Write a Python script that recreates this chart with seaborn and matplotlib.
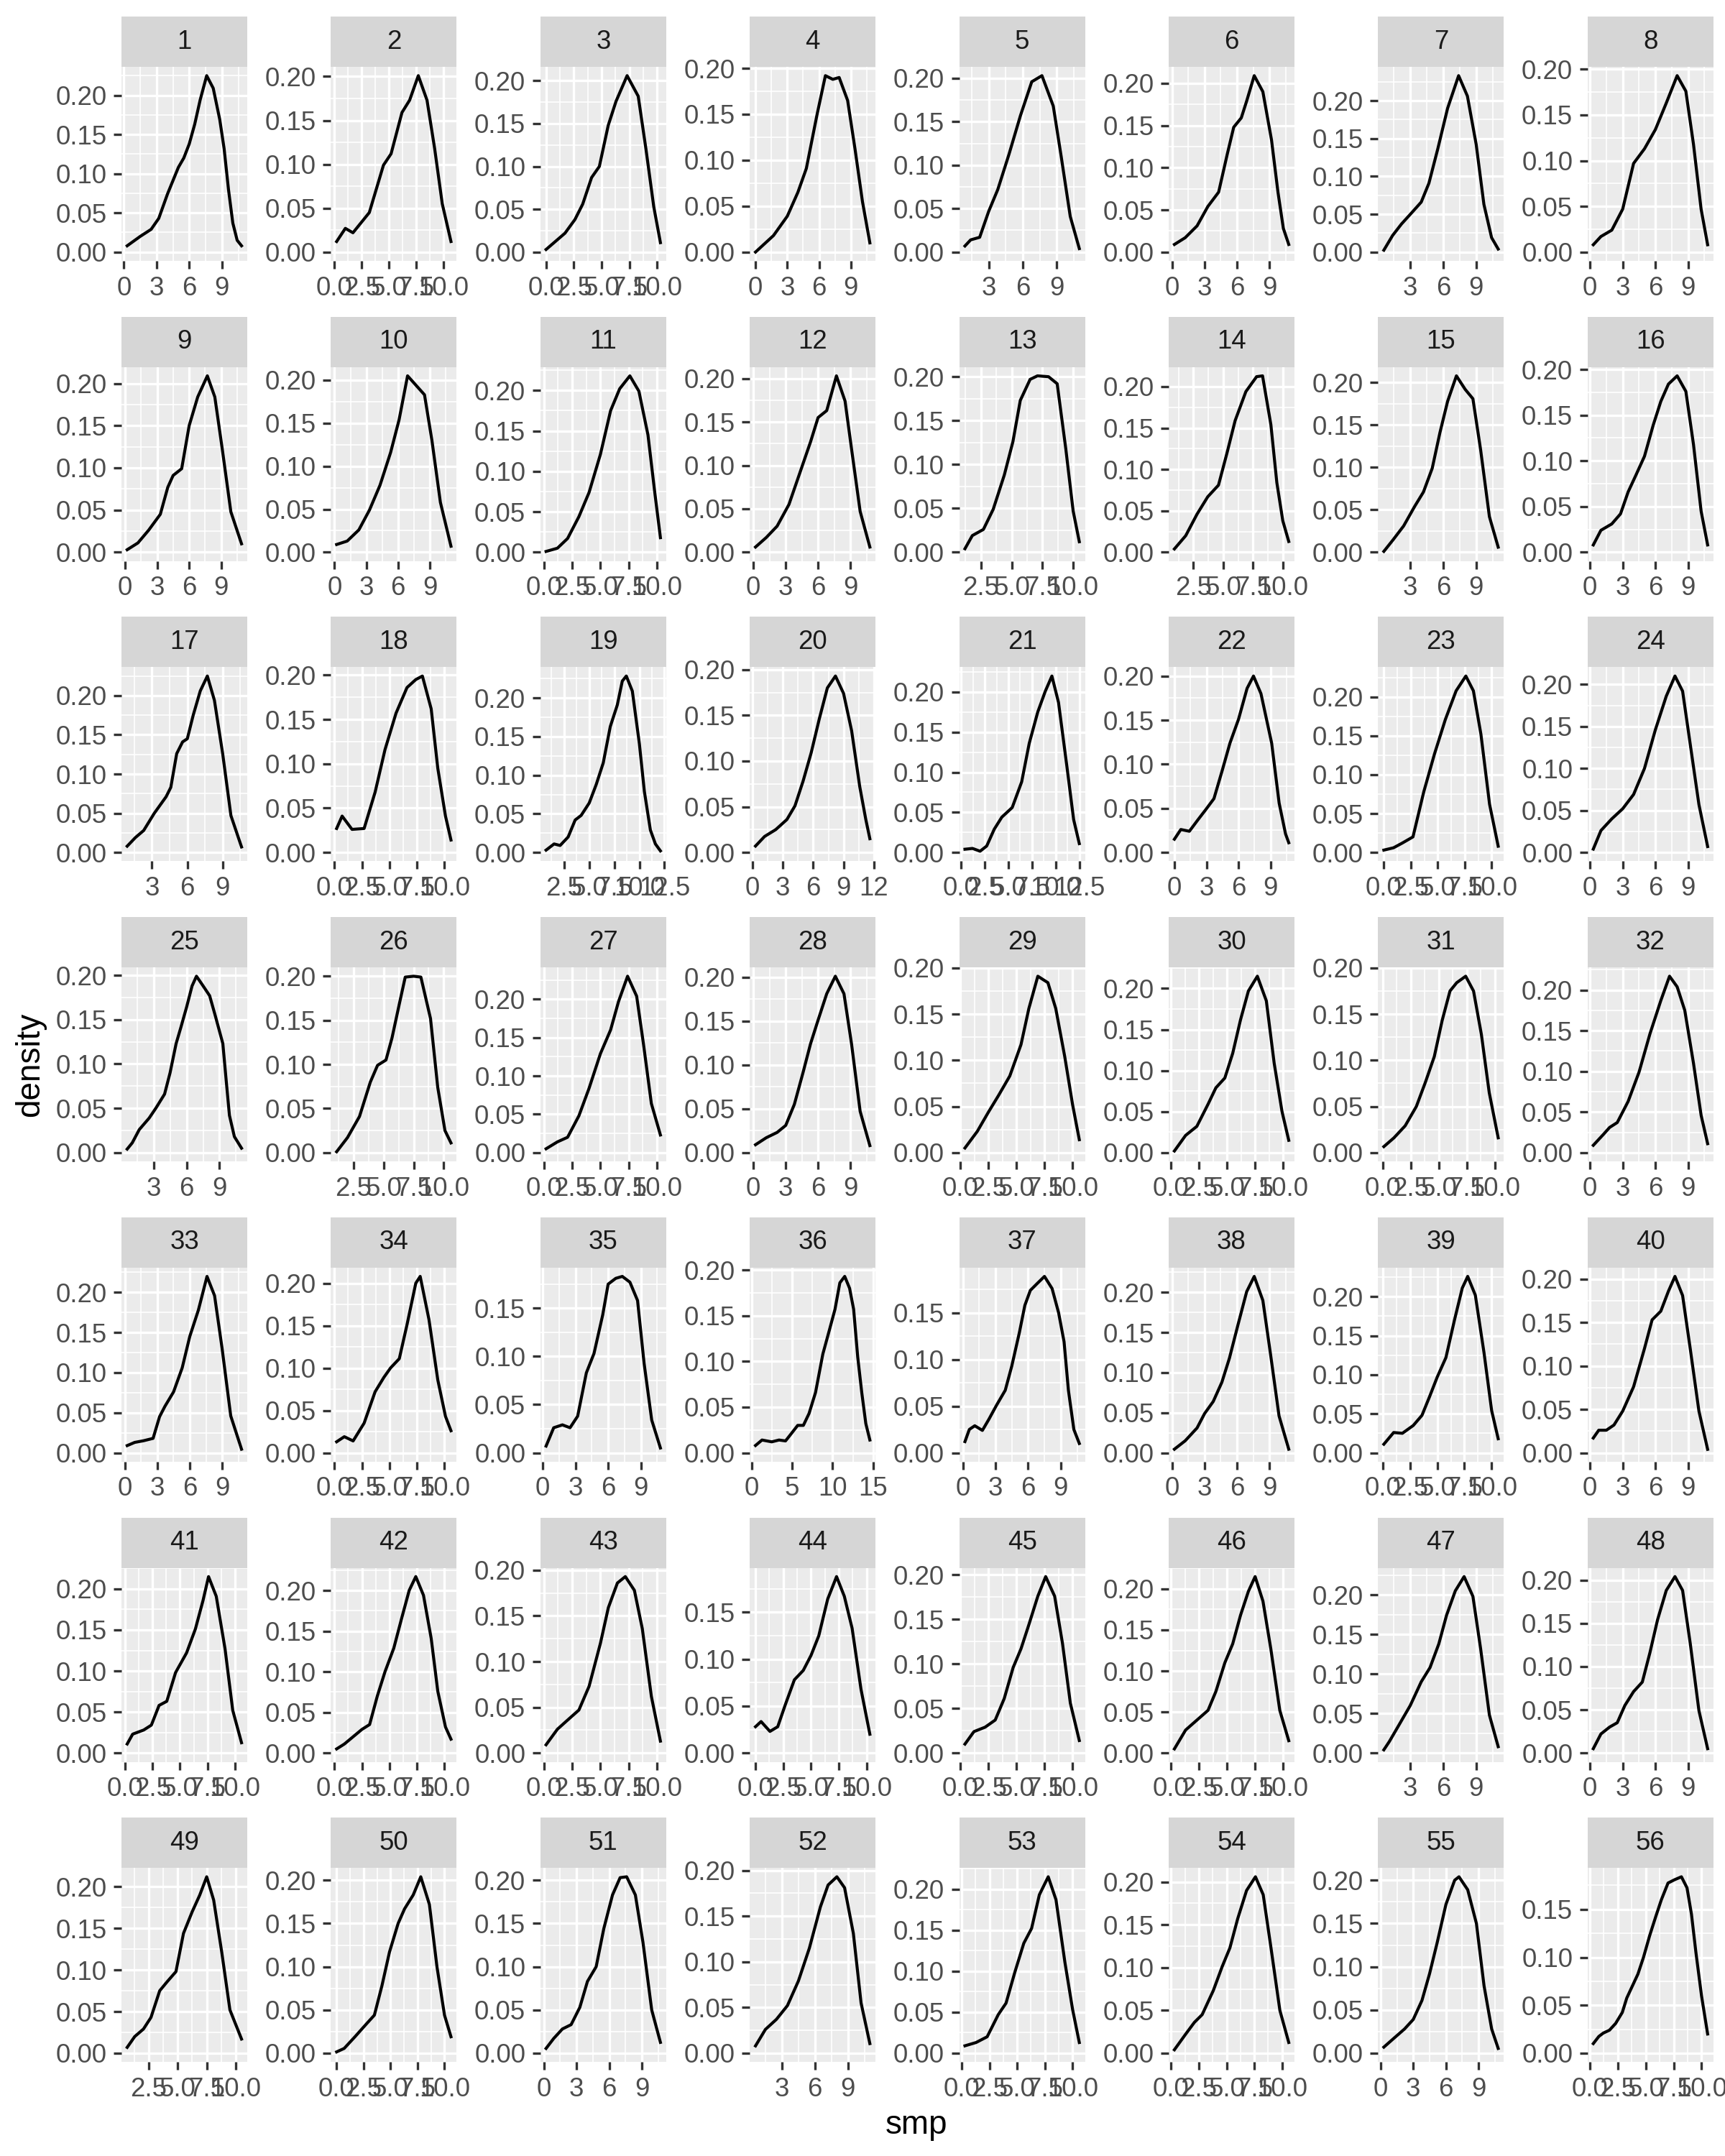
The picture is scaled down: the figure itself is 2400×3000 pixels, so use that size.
import matplotlib
matplotlib.use("Agg")
import matplotlib.pyplot as plt
from matplotlib.patches import Rectangle
from matplotlib.ticker import FixedLocator, FormatStrFormatter
import seaborn as sns

x_1 = [0.3, 1.5, 2.5, 3.2, 4.0, 5.0, 5.5, 6.0, 6.5, 7.0, 7.6, 8.2, 8.8, 9.2, 9.6, 10.0, 10.4, 10.8]
d_1 = [0.008, 0.02, 0.029, 0.043, 0.074, 0.108, 0.12, 0.138, 0.163, 0.194, 0.225, 0.209, 0.169, 0.132, 0.08, 0.037, 0.015, 0.008]
x_2 = [0.2, 1.0, 1.7, 3.2, 4.5, 5.2, 6.2, 6.9, 7.7, 8.5, 9.2, 9.9, 10.7]
d_2 = [0.012, 0.027, 0.022, 0.045, 0.099, 0.112, 0.159, 0.173, 0.201, 0.173, 0.118, 0.055, 0.012]
x_3 = [0.0, 1.7, 2.6, 3.3, 4.1, 4.8, 5.6, 6.3, 7.3, 8.3, 9.0, 9.7, 10.3]
d_3 = [0.003, 0.022, 0.038, 0.056, 0.087, 0.10, 0.148, 0.176, 0.206, 0.182, 0.12, 0.053, 0.011]
x_4 = [0.0, 1.7, 3.0, 4.0, 4.8, 5.8, 6.6, 7.3, 7.9, 8.7, 9.4, 10.1, 10.8]
d_4 = [0.0, 0.018, 0.039, 0.065, 0.091, 0.149, 0.192, 0.188, 0.19, 0.165, 0.112, 0.055, 0.01]
x_5 = [0.9, 1.4, 2.2, 3.0, 3.8, 4.8, 5.8, 6.8, 7.7, 8.7, 9.4, 10.2, 11.0]
d_5 = [0.007, 0.014, 0.017, 0.047, 0.072, 0.113, 0.157, 0.196, 0.203, 0.168, 0.11, 0.041, 0.004]
x_6 = [0.2, 1.2, 2.3, 3.3, 4.3, 5.1, 5.7, 6.4, 6.9, 7.6, 8.4, 9.2, 9.8, 10.3, 10.8]
d_6 = [0.009, 0.017, 0.031, 0.054, 0.071, 0.116, 0.148, 0.159, 0.179, 0.209, 0.19, 0.133, 0.071, 0.028, 0.009]
x_7 = [0.6, 1.4, 2.2, 3.2, 4.0, 4.7, 5.5, 6.4, 7.4, 8.2, 9.0, 9.7, 10.4, 11.0]
d_7 = [0.0025, 0.022, 0.037, 0.053, 0.066, 0.091, 0.136, 0.19, 0.233, 0.206, 0.142, 0.063, 0.019, 0.004]
x_8 = [0.3, 1.0, 2.0, 3.0, 4.0, 5.0, 6.0, 7.0, 8.0, 8.8, 9.5, 10.2, 10.8]
d_8 = [0.008, 0.017, 0.024, 0.047, 0.097, 0.113, 0.134, 0.163, 0.193, 0.176, 0.118, 0.047, 0.008]
x_9 = [0.2, 1.2, 2.2, 3.3, 4.0, 4.5, 5.3, 6.0, 6.8, 7.7, 8.4, 9.1, 9.9, 10.9]
d_9 = [0.003, 0.011, 0.026, 0.045, 0.077, 0.091, 0.099, 0.15, 0.184, 0.209, 0.184, 0.122, 0.048, 0.01]
x_10 = [0.2, 1.2, 2.3, 3.3, 4.3, 5.3, 6.1, 6.9, 7.7, 8.5, 9.2, 10.0, 11.0]
d_10 = [0.009, 0.013, 0.026, 0.049, 0.078, 0.116, 0.154, 0.205, 0.194, 0.183, 0.13, 0.058, 0.007]
x_11 = [0.2, 1.2, 2.1, 3.1, 4.0, 5.0, 5.9, 6.7, 7.6, 8.4, 9.2, 9.8, 10.3]
d_11 = [0.001, 0.005, 0.017, 0.044, 0.074, 0.121, 0.175, 0.202, 0.218, 0.199, 0.145, 0.074, 0.018]
x_12 = [0.2, 1.2, 2.2, 3.3, 4.3, 5.3, 6.0, 6.8, 7.7, 8.5, 9.1, 9.9, 10.8]
d_12 = [0.006, 0.017, 0.03, 0.055, 0.091, 0.127, 0.155, 0.163, 0.203, 0.174, 0.119, 0.047, 0.006]
x_13 = [1.2, 1.8, 2.7, 3.5, 4.4, 5.1, 5.7, 6.5, 7.1, 8.0, 8.7, 9.4, 10.0, 10.5]
d_13 = [0.004, 0.019, 0.026, 0.049, 0.088, 0.126, 0.173, 0.197, 0.201, 0.2, 0.192, 0.118, 0.047, 0.012]
x_14 = [0.9, 1.85, 2.8, 3.7, 4.6, 5.3, 6.0, 6.9, 7.8, 8.3, 9.0, 9.5, 10.0, 10.5]
d_14 = [0.004, 0.02, 0.046, 0.067, 0.081, 0.119, 0.159, 0.194, 0.212, 0.213, 0.154, 0.084, 0.038, 0.013]
x_15 = [0.6, 1.4, 2.4, 3.4, 4.2, 5.0, 5.7, 6.4, 7.2, 8.0, 8.7, 9.4, 10.2, 11.0]
d_15 = [0.001, 0.014, 0.031, 0.054, 0.071, 0.099, 0.141, 0.178, 0.208, 0.192, 0.181, 0.121, 0.042, 0.006]
x_16 = [0.3, 1.0, 2.0, 2.8, 3.5, 4.2, 5.0, 5.8, 6.5, 7.2, 8.0, 8.8, 9.5, 10.2, 10.8]
d_16 = [0.008, 0.024, 0.031, 0.042, 0.066, 0.084, 0.105, 0.139, 0.165, 0.184, 0.193, 0.176, 0.118, 0.045, 0.008]
x_17 = [0.9, 1.6, 2.3, 3.2, 4.2, 4.6, 5.1, 5.6, 6.0, 6.5, 7.1, 7.7, 8.3, 9.0, 9.7, 10.6]
d_17 = [0.008, 0.019, 0.028, 0.05, 0.071, 0.083, 0.126, 0.141, 0.145, 0.175, 0.206, 0.225, 0.194, 0.126, 0.047, 0.007]
x_18 = [0.2, 0.7, 1.6, 2.7, 3.7, 4.6, 5.6, 6.6, 7.4, 8.0, 8.8, 9.4, 10.1, 10.6]
d_18 = [0.027, 0.041, 0.026, 0.027, 0.068, 0.116, 0.157, 0.186, 0.195, 0.199, 0.162, 0.095, 0.041, 0.014]
x_19 = [0.7, 1.5, 2.1, 2.9, 3.6, 4.2, 5.0, 5.7, 6.4, 7.1, 7.8, 8.3, 8.7, 9.3, 10.0, 10.5, 11.1, 11.6, 12.1]
d_19 = [0.003, 0.011, 0.009, 0.02, 0.042, 0.048, 0.064, 0.088, 0.116, 0.163, 0.191, 0.222, 0.2285, 0.209, 0.141, 0.079, 0.029, 0.011, 0.002]
x_20 = [0.3, 1.2, 2.3, 3.4, 4.2, 5.0, 5.8, 6.6, 7.4, 8.2, 9.0, 9.8, 10.6, 11.2, 11.6]
d_20 = [0.007, 0.0175, 0.025, 0.036, 0.051, 0.078, 0.109, 0.146, 0.18, 0.193, 0.174, 0.133, 0.072, 0.036, 0.015]
x_21 = [0.4, 1.2, 2.0, 2.7, 3.5, 4.3, 5.4, 6.4, 7.2, 8.1, 8.9, 9.6, 10.3, 11.2, 11.9, 12.5]
d_21 = [0.004, 0.005, 0.0015, 0.008, 0.029, 0.044, 0.056, 0.088, 0.136, 0.175, 0.201, 0.22, 0.187, 0.106, 0.041, 0.011]
x_22 = [0.0, 0.6, 1.4, 2.2, 2.9, 3.7, 4.5, 5.2, 6.0, 6.8, 7.4, 8.1, 9.1, 9.8, 10.4, 10.7]
d_22 = [0.015, 0.026, 0.024, 0.037, 0.048, 0.061, 0.094, 0.124, 0.151, 0.186, 0.2, 0.18, 0.124, 0.056, 0.021, 0.011]
x_23 = [0.0, 0.9, 1.7, 2.7, 3.7, 4.7, 5.7, 6.7, 7.6, 8.3, 9.0, 9.8, 10.6]
d_23 = [0.003, 0.006, 0.012, 0.02, 0.078, 0.127, 0.171, 0.208, 0.227, 0.208, 0.152, 0.062, 0.008]
x_24 = [0.3, 1.0, 2.0, 3.0, 4.0, 5.0, 6.0, 7.0, 7.8, 8.5, 9.2, 10.0, 10.8]
d_24 = [0.004, 0.026, 0.04, 0.052, 0.069, 0.1, 0.146, 0.186, 0.21, 0.192, 0.129, 0.057, 0.007]
x_25 = [0.6, 1.06, 1.7, 2.6, 3.2, 4.0, 4.5, 5.05, 5.5, 6.0, 6.5, 6.9, 7.4, 8.1, 8.6, 9.3, 9.6, 9.9, 10.35, 11.0]
d_25 = [0.004, 0.011, 0.026, 0.039, 0.05, 0.066, 0.09, 0.123, 0.142, 0.164, 0.188, 0.199, 0.19, 0.177, 0.155, 0.123, 0.082, 0.042, 0.018, 0.005]
x_26 = [1.1, 2.0, 3.0, 3.9, 4.5, 5.2, 5.7, 6.3, 6.8, 7.5, 8.1, 8.9, 9.5, 10.1, 10.6]
d_26 = [0.001, 0.017, 0.041, 0.08, 0.099, 0.105, 0.13, 0.168, 0.199, 0.2, 0.199, 0.152, 0.074, 0.025, 0.011]
x_27 = [0.2, 1.2, 2.1, 3.1, 4.0, 5.0, 5.9, 6.6, 7.4, 8.2, 8.8, 9.5, 10.3]
d_27 = [0.005, 0.014, 0.02, 0.048, 0.084, 0.129, 0.16, 0.197, 0.23, 0.204, 0.142, 0.064, 0.023]
x_28 = [0.2, 1.2, 2.2, 3.0, 3.8, 4.6, 5.3, 6.0, 6.8, 7.6, 8.4, 9.1, 9.9, 10.8]
d_28 = [0.009, 0.017, 0.023, 0.031, 0.055, 0.091, 0.124, 0.151, 0.181, 0.201, 0.181, 0.124, 0.047, 0.008]
x_29 = [0.4, 1.5, 2.5, 3.4, 4.4, 5.4, 6.1, 6.9, 7.8, 8.5, 9.3, 10.0, 10.6]
d_29 = [0.005, 0.023, 0.044, 0.062, 0.083, 0.117, 0.156, 0.191, 0.184, 0.156, 0.104, 0.052, 0.014]
x_30 = [0.3, 1.3, 2.3, 3.3, 4.0, 4.8, 5.5, 6.2, 6.9, 7.7, 8.5, 9.2, 9.9, 10.5]
d_30 = [0.002, 0.021, 0.032, 0.059, 0.079, 0.091, 0.121, 0.162, 0.197, 0.215, 0.185, 0.109, 0.05, 0.015]
x_31 = [0.1, 1.0, 2.0, 3.0, 3.8, 4.6, 5.3, 6.0, 6.6, 7.4, 8.1, 8.8, 9.5, 10.3]
d_31 = [0.0065, 0.016, 0.029, 0.05, 0.076, 0.104, 0.143, 0.175, 0.184, 0.191, 0.175, 0.128, 0.065, 0.016]
x_32 = [0.3, 1.2, 1.8, 2.5, 3.5, 4.5, 5.5, 6.5, 7.3, 8.0, 8.7, 9.5, 10.2, 10.8]
d_32 = [0.009, 0.022, 0.031, 0.037, 0.063, 0.099, 0.146, 0.187, 0.217, 0.204, 0.175, 0.11, 0.046, 0.011]
x_33 = [0.2, 0.9, 1.7, 2.6, 3.2, 3.7, 4.5, 5.3, 6.0, 6.8, 7.6, 8.3, 9.0, 9.8, 10.8]
d_33 = [0.009, 0.013, 0.015, 0.018, 0.045, 0.058, 0.076, 0.106, 0.145, 0.178, 0.22, 0.196, 0.13, 0.046, 0.0045]
x_34 = [0.2, 0.9, 1.7, 2.7, 3.7, 4.5, 5.1, 5.9, 6.6, 7.4, 7.8, 8.6, 9.4, 10.1, 10.6]
d_34 = [0.013, 0.019, 0.014, 0.035, 0.072, 0.089, 0.1, 0.111, 0.151, 0.2, 0.208, 0.157, 0.086, 0.043, 0.026]
x_35 = [0.3, 1.0, 1.8, 2.5, 3.2, 4.0, 4.7, 5.5, 6.0, 6.7, 7.3, 8.0, 8.7, 9.3, 10.0, 10.8]
d_35 = [0.007, 0.026, 0.029, 0.026, 0.038, 0.083, 0.103, 0.143, 0.175, 0.181, 0.183, 0.177, 0.158, 0.093, 0.034, 0.005]
x_36 = [0.5, 1.3, 2.5, 3.4, 4.2, 5.0, 5.7, 6.4, 7.1, 7.9, 8.8, 9.6, 10.3, 10.9, 11.5, 12.1, 12.6, 13.1, 13.6, 14.1, 14.6]
d_36 = [0.008, 0.014, 0.012, 0.014, 0.013, 0.022, 0.03, 0.03, 0.043, 0.066, 0.108, 0.134, 0.157, 0.186, 0.193, 0.18, 0.157, 0.105, 0.066, 0.032, 0.014]
x_37 = [0.2, 0.6, 1.1, 1.8, 2.4, 3.1, 3.9, 4.5, 5.2, 5.7, 6.2, 6.8, 7.5, 8.2, 8.8, 9.3, 9.7, 10.2, 10.7]
d_37 = [0.012, 0.025, 0.029, 0.024, 0.036, 0.051, 0.067, 0.093, 0.129, 0.158, 0.174, 0.181, 0.189, 0.176, 0.15, 0.119, 0.067, 0.025, 0.01]
x_38 = [0.2, 1.2, 2.3, 3.0, 3.8, 4.6, 5.3, 6.1, 6.9, 7.6, 8.4, 9.1, 9.9, 10.8]
d_38 = [0.0045, 0.015, 0.031, 0.049, 0.064, 0.088, 0.118, 0.16, 0.201, 0.22, 0.19, 0.124, 0.046, 0.0045]
x_39 = [0.1, 1.0, 1.8, 2.8, 3.6, 4.3, 5.0, 5.8, 6.6, 7.3, 7.8, 8.5, 9.3, 10.0, 10.6]
d_39 = [0.011, 0.026, 0.025, 0.035, 0.048, 0.072, 0.097, 0.122, 0.171, 0.211, 0.226, 0.202, 0.128, 0.054, 0.018]
x_40 = [0.3, 0.8, 1.5, 2.2, 3.0, 4.0, 5.0, 5.7, 6.5, 7.2, 7.8, 8.5, 9.2, 10.0, 10.8]
d_40 = [0.017, 0.026, 0.026, 0.032, 0.048, 0.076, 0.12, 0.153, 0.163, 0.186, 0.203, 0.181, 0.12, 0.048, 0.004]
x_41 = [0.2, 0.7, 1.7, 2.4, 3.1, 3.8, 4.6, 5.6, 6.4, 7.1, 7.6, 8.3, 9.1, 9.8, 10.6]
d_41 = [0.011, 0.023, 0.028, 0.034, 0.058, 0.063, 0.098, 0.122, 0.151, 0.186, 0.215, 0.191, 0.127, 0.052, 0.0125]
x_42 = [0.2, 0.9, 1.7, 2.5, 3.2, 3.9, 4.6, 5.4, 6.1, 6.8, 7.4, 8.1, 8.8, 9.4, 10.1, 10.6]
d_42 = [0.005, 0.011, 0.02, 0.029, 0.035, 0.07, 0.1, 0.129, 0.165, 0.2, 0.217, 0.194, 0.141, 0.076, 0.032, 0.017]
x_43 = [0.2, 1.2, 2.1, 3.1, 4.0, 5.0, 5.7, 6.5, 7.2, 8.0, 8.7, 9.5, 10.3]
d_43 = [0.009, 0.026, 0.036, 0.047, 0.073, 0.12, 0.159, 0.186, 0.193, 0.178, 0.136, 0.062, 0.013]
x_44 = [0.0, 0.5, 1.3, 2.0, 2.7, 3.5, 4.3, 5.0, 5.7, 6.5, 7.3, 8.0, 8.7, 9.5, 10.3]
d_44 = [0.028, 0.0335, 0.023, 0.028, 0.052, 0.078, 0.088, 0.104, 0.125, 0.164, 0.188, 0.167, 0.133, 0.068, 0.02]
x_45 = [0.4, 1.2, 2.2, 3.1, 3.9, 4.7, 5.4, 6.1, 6.9, 7.6, 8.4, 9.1, 9.8, 10.6]
d_45 = [0.01, 0.024, 0.029, 0.037, 0.061, 0.096, 0.117, 0.144, 0.176, 0.198, 0.176, 0.123, 0.056, 0.014]
x_46 = [0.3, 1.3, 2.3, 3.3, 4.0, 4.8, 5.5, 6.2, 6.9, 7.5, 8.2, 8.9, 9.7, 10.5]
d_46 = [0.005, 0.028, 0.04, 0.052, 0.075, 0.11, 0.133, 0.168, 0.197, 0.215, 0.185, 0.127, 0.052, 0.015]
x_47 = [0.6, 1.1, 2.0, 3.0, 4.0, 4.8, 5.6, 6.3, 7.1, 7.9, 8.7, 9.4, 10.2, 11.0]
d_47 = [0.004, 0.0145, 0.036, 0.06, 0.09, 0.108, 0.138, 0.174, 0.205, 0.223, 0.198, 0.132, 0.048, 0.008]
x_48 = [0.3, 1.0, 1.8, 2.5, 3.2, 4.0, 4.8, 5.5, 6.2, 7.0, 7.8, 8.5, 9.2, 10.0, 10.8]
d_48 = [0.005, 0.022, 0.03, 0.035, 0.055, 0.071, 0.082, 0.116, 0.154, 0.188, 0.204, 0.188, 0.127, 0.049, 0.005]
x_49 = [0.65, 1.3, 2.05, 2.7, 3.45, 4.1, 4.85, 5.5, 6.25, 6.9, 7.5, 8.1, 8.8, 9.5, 10.5]
d_49 = [0.007, 0.02, 0.029, 0.043, 0.075, 0.086, 0.098, 0.144, 0.17, 0.19, 0.212, 0.184, 0.121, 0.052, 0.017]
x_50 = [0.0, 0.7, 1.7, 2.7, 3.5, 4.2, 4.9, 5.7, 6.3, 7.1, 7.8, 8.6, 9.3, 10.0, 10.6]
d_50 = [0.0015, 0.0055, 0.019, 0.033, 0.044, 0.078, 0.117, 0.15, 0.167, 0.183, 0.204, 0.172, 0.1, 0.044, 0.019]
x_51 = [0.2, 0.9, 1.7, 2.5, 3.3, 4.0, 4.8, 5.5, 6.3, 7.0, 7.6, 8.4, 9.1, 9.9, 10.7]
d_51 = [0.0055, 0.017, 0.028, 0.033, 0.053, 0.083, 0.1, 0.144, 0.183, 0.203, 0.204, 0.183, 0.128, 0.05, 0.0125]
x_52 = [0.6, 1.5, 2.5, 3.5, 4.5, 5.5, 6.5, 7.2, 8.0, 8.7, 9.5, 10.2, 11.0]
d_52 = [0.008, 0.026, 0.037, 0.052, 0.079, 0.115, 0.16, 0.184, 0.193, 0.181, 0.131, 0.055, 0.0105]
x_53 = [0.3, 1.3, 2.3, 3.3, 4.0, 4.8, 5.6, 6.3, 7.0, 7.8, 8.5, 9.3, 10.0, 10.6]
d_53 = [0.009, 0.013, 0.02, 0.047, 0.061, 0.099, 0.134, 0.152, 0.193, 0.215, 0.187, 0.111, 0.053, 0.013]
x_54 = [0.3, 1.3, 2.1, 2.8, 3.8, 4.6, 5.3, 6.0, 6.8, 7.6, 8.3, 9.0, 9.8, 10.6]
d_54 = [0.004, 0.022, 0.036, 0.045, 0.073, 0.101, 0.123, 0.157, 0.19, 0.206, 0.185, 0.123, 0.05, 0.0125]
x_55 = [0.3, 1.2, 2.2, 3.0, 3.8, 4.5, 5.2, 6.0, 6.8, 7.2, 8.0, 8.8, 9.5, 10.2, 10.8]
d_55 = [0.007, 0.017, 0.028, 0.039, 0.061, 0.092, 0.128, 0.172, 0.2, 0.204, 0.189, 0.15, 0.078, 0.028, 0.0055]
x_56 = [0.3, 0.8, 1.2, 1.75, 2.3, 2.9, 3.3, 3.8, 4.3, 4.8, 5.35, 5.9, 6.4, 7.0, 7.6, 8.2, 8.7, 9.1, 9.5, 10.0, 10.55]
d_56 = [0.01, 0.0175, 0.021, 0.024, 0.031, 0.0425, 0.0575, 0.07, 0.0825, 0.1, 0.1225, 0.1425, 0.16, 0.1775, 0.181, 0.184, 0.1725, 0.145, 0.105, 0.06, 0.02]

# x-axis break sets used by the facets (free scales)
ticks_3 = [0, 3, 6, 9]
ticks_25 = [0, 2.5, 5, 7.5, 10]
ticks_3_12 = [0, 3, 6, 9, 12]
ticks_25_125 = [0, 2.5, 5, 7.5, 10, 12.5]
ticks_5 = [0, 5, 10, 15]
panel_ticks = [
    "3", "25", "25", "3", "3", "3", "3", "3",
    "3", "3", "25", "3", "25", "25", "3", "3",
    "3", "25", "25_125", "3_12", "25_125", "3", "25", "3",
    "3", "25", "25", "3", "25", "25", "25", "3",
    "3", "25", "3", "5", "3", "3", "25", "3",
    "25", "25", "25", "25", "25", "25", "3", "3",
    "25", "25", "3", "3", "25", "25", "3", "25",
]
y_breaks = [0.0, 0.05, 0.10, 0.15, 0.20]

tick_sets = {"3": ticks_3, "25": ticks_25, "3_12": ticks_3_12,
             "25_125": ticks_25_125, "5": ticks_5}
xs = [globals()[f"x_{i}"] for i in range(1, 57)]
ds = [globals()[f"d_{i}"] for i in range(1, 57)]

# ---- style (ggplot2 grey theme look) ----
plt.rcParams["font.family"] = ["Liberation Sans", "DejaVu Sans"]
W, H = 2400, 3000
fig = plt.figure(figsize=(8, 10), dpi=300)


def minor_between(breaks):
    step = breaks[1] - breaks[0]
    ext = [breaks[0] - step] + list(breaks) + [breaks[-1] + step]
    return [(a + b) / 2 for a, b in zip(ext[:-1], ext[1:])]


for i in range(56):
    r, c = divmod(i, 8)
    left = (169 + 291.4 * c) / W
    top_px = 23 + 417.7 * r + 70
    ax = fig.add_axes([left, 1 - (top_px + 270) / H, 175 / W, 270 / H])
    ax.set_facecolor("#EBEBEB")

    sns.lineplot(x=xs[i], y=ds[i], ax=ax, color="black", linewidth=1.0,
                 sort=False, estimator=None)

    x0, x1 = min(xs[i]), max(xs[i])
    pad = 0.05 * (x1 - x0)
    ax.set_xlim(x0 - pad, x1 + pad)
    ymax = max(ds[i])
    ax.set_ylim(-0.05 * ymax, 1.05 * ymax)

    tks = tick_sets[panel_ticks[i]]
    ax.xaxis.set_major_locator(FixedLocator(tks))
    if any(t != int(t) for t in tks):
        ax.set_xticklabels([f"{t:.1f}" for t in tks])
    else:
        ax.set_xticklabels([str(int(t)) for t in tks])
    ax.xaxis.set_minor_locator(FixedLocator(minor_between(tks)))
    ax.yaxis.set_major_locator(FixedLocator(y_breaks))
    ax.yaxis.set_major_formatter(FormatStrFormatter("%.2f"))
    ax.yaxis.set_minor_locator(FixedLocator(minor_between(y_breaks)))

    ax.grid(which="major", color="white", linewidth=0.8)
    ax.grid(which="minor", color="white", linewidth=0.4)
    ax.set_axisbelow(True)
    for s in ax.spines.values():
        s.set_visible(False)
    ax.tick_params(which="major", length=2.75, width=0.8, color="#333333",
                   labelsize=8.8, labelcolor="#4D4D4D", pad=2.2)
    ax.tick_params(which="minor", length=0)
    ax.set_xlabel("")
    ax.set_ylabel("")

    # facet strip
    sh = 70 / 270
    ax.add_patch(Rectangle((0, 1), 1, sh, transform=ax.transAxes,
                           facecolor="#D6D6D6", edgecolor="none", clip_on=False))
    ax.text(0.5, 1 + sh / 2, str(i + 1), transform=ax.transAxes, ha="center",
            va="center", fontsize=8.8, color="#1A1A1A")

fig.text(42 / W, 1 - 1481 / H, "density", rotation=90, ha="center",
         va="center", fontsize=11)
fig.text(1275 / W, 1 - 2957 / H, "smp", ha="center", va="center", fontsize=11)

fig.savefig("out.png", dpi=300)
